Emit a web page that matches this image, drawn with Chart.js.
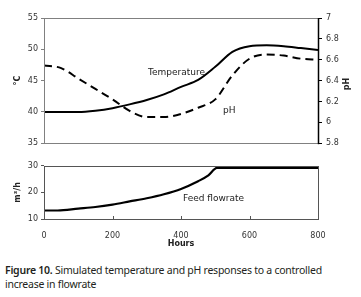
<!DOCTYPE html>
<html lang="en">
<head>
<meta charset="UTF-8">
<title>Figure 10</title>
<script src="https://cdn.jsdelivr.net/npm/chart.js"></script>
<style>
    body { margin: 0; background: #fff; width: 361px; height: 297px; position: relative; overflow: hidden; font-family: "DejaVu Sans", sans-serif; color: #222; }
    .box { position: absolute; left: 0; width: 361px; }
    #topBox { top: 0; height: 152px; }
    #bottomBox { top: 158px; height: 92px; }
    .lbl { position: absolute; font-size: 9px; line-height: 10px; white-space: nowrap; color: #222; }
    #phTitle { left: 340px; top: 79px; width: 14px; text-align: center; font-weight: bold; font-size: 8px; transform: rotate(-90deg); }
    #caption { position: absolute; left: 5px; top: 263px; font-family: "Noto Sans", sans-serif; font-size: 10.5px; line-height: 14px; color: #231f20; letter-spacing: -0.25px; }
    #caption b { font-weight: 600; }
</style>
</head>
<body>
<div class="box" id="topBox"><canvas id="topChart"></canvas></div>
<div class="box" id="bottomBox"><canvas id="bottomChart"></canvas></div>

<div class="lbl" style="left:148px; top:67px;">Temperature</div>
<div class="lbl" style="left:223px; top:105px;">pH</div>
<div class="lbl" style="left:183px; top:193px;">Feed flowrate</div>
<div class="lbl" id="phTitle">pH</div>
<div id="caption"><b>Figure 10.</b> Simulated temperature and pH responses to a controlled<br>increase in flowrate</div>

<script>
// hours for temperature and pH
const hours = [0, 50, 100, 150, 200, 250, 300, 350, 400, 450, 500, 550, 600, 650, 700, 750, 800];
const temperature = [40.0, 40.0, 40.0, 40.2, 40.6, 41.2, 41.9, 42.8, 44.0, 45.1, 47.2, 49.6, 50.5, 50.65, 50.5, 50.2, 49.9];
const ph = [6.545, 6.52, 6.42, 6.32, 6.22, 6.11, 6.05, 6.05, 6.08, 6.14, 6.22, 6.45, 6.61, 6.65, 6.64, 6.61, 6.60];

// feed flowrate (m3/h)
const flowHours = [0, 40, 100, 150, 200, 250, 300, 350, 400, 450, 480, 505, 550, 600, 650, 700, 750, 800];
const flowrate = [13.2, 13.2, 13.9, 14.5, 15.4, 16.6, 17.8, 19.3, 21.3, 24.2, 26.4, 29.2, 29.2, 29.2, 29.2, 29.2, 29.2, 29.2];

const xTicks = [0, 200, 400, 600, 800];

const tickFont = { family: 'DejaVu Sans', size: 8 };
const titleFont = { family: 'DejaVu Sans', size: 8, weight: 'bold' };

function pts(xs, ys) {
    return xs.map((x, i) => ({ x: x, y: ys[i] }));
}

// frame around plot area, plus optional inward x ticks
const framePlugin = {
    id: 'frame',
    afterDraw(chart, args, opts) {
        const a = chart.chartArea;
        const c = chart.ctx;
        c.save();
        c.lineWidth = 1;
        c.strokeStyle = opts.color || '#777';
        c.strokeRect(Math.round(a.left) + 0.5, Math.round(a.top) + 0.5, Math.round(a.right - a.left), Math.round(a.bottom - a.top));
        if (opts.rightColor) {
            c.strokeStyle = opts.rightColor;
            c.lineWidth = 1.5;
            c.beginPath();
            c.moveTo(Math.round(a.right) + 0.5, a.top);
            c.lineTo(Math.round(a.right) + 0.5, a.bottom + 1);
            c.stroke();
        }
        if (opts.innerTicks) {
            const xs = chart.scales.x;
            c.strokeStyle = opts.color || '#777';
            c.lineWidth = 1;
            opts.innerTicks.forEach(v => {
                const px = Math.round(xs.getPixelForValue(v)) + 0.5;
                c.beginPath();
                c.moveTo(px, a.bottom);
                c.lineTo(px, a.bottom - 3);
                c.stroke();
            });
        }
        c.restore();
    }
};

new Chart(document.getElementById('topChart'), {
    type: 'line',
    data: {
        datasets: [
            {
                label: 'Temperature',
                data: pts(hours, temperature),
                yAxisID: 'y',
                borderColor: '#000',
                borderWidth: 2,
                pointRadius: 0,
                cubicInterpolationMode: 'monotone'
            },
            {
                label: 'pH',
                data: pts(hours, ph),
                yAxisID: 'y2',
                borderColor: '#000',
                borderWidth: 2,
                borderDash: [8, 5],
                pointRadius: 0,
                cubicInterpolationMode: 'monotone'
            }
        ]
    },
    options: {
        responsive: true,
        maintainAspectRatio: false,
        animation: false,
        layout: { padding: { top: 18, bottom: 2, left: 0, right: 0 } },
        plugins: {
            legend: { display: false },
            tooltip: { enabled: false },
            frame: { color: '#808080', rightColor: '#000' }
        },
        scales: {
            x: { type: 'linear', min: 0, max: 800, display: false },
            y: {
                position: 'left',
                min: 35, max: 55,
                ticks: { stepSize: 5, font: tickFont, color: '#333', padding: 3 },
                grid: { drawOnChartArea: false, tickLength: 3, color: '#808080' },
                border: { display: false },
                title: { display: true, text: '°C', font: titleFont, color: '#222', padding: { top: 13, bottom: 0 } },
                afterFit(s) { s.width = 44; }
            },
            y2: {
                position: 'right',
                min: 5.8, max: 7,
                ticks: {
                    stepSize: 0.2, font: tickFont, color: '#333', padding: 4,
                    callback: v => String(Number(v.toFixed(1)))
                },
                grid: { drawOnChartArea: false, tickLength: 4, color: '#000' },
                border: { display: false },
                afterFit(s) { s.width = 43; }
            }
        }
    },
    plugins: [framePlugin]
});

new Chart(document.getElementById('bottomChart'), {
    type: 'line',
    data: {
        datasets: [
            {
                label: 'Feed flowrate',
                data: pts(flowHours, flowrate),
                borderColor: '#000',
                borderWidth: 2.2,
                pointRadius: 0,
                cubicInterpolationMode: 'monotone'
            }
        ]
    },
    options: {
        responsive: true,
        maintainAspectRatio: false,
        animation: false,
        layout: { padding: { top: 7, bottom: 0, left: 0, right: 43 } },
        plugins: {
            legend: { display: false },
            tooltip: { enabled: false },
            frame: { color: '#555', innerTicks: [200, 400, 600] }
        },
        scales: {
            x: {
                type: 'linear', min: 0, max: 800,
                afterBuildTicks(s) { s.ticks = xTicks.map(v => ({ value: v })); },
                ticks: { font: tickFont, color: '#333', padding: 4, maxRotation: 0 },
                grid: { display: false },
                border: { display: false },
                title: { display: true, text: 'Hours', font: titleFont, color: '#222', padding: { top: 0, bottom: 1 } },
                afterFit(s) { s.height = 31; }
            },
            y: {
                min: 10, max: 30,
                ticks: { stepSize: 10, font: tickFont, color: '#333', padding: 3 },
                grid: { drawOnChartArea: false, tickLength: 3, color: '#555' },
                border: { display: false },
                title: { display: true, text: 'm³/h', font: titleFont, color: '#222', padding: { top: 13, bottom: 0 } },
                afterFit(s) { s.width = 44; }
            }
        }
    },
    plugins: [framePlugin]
});
</script>
</body>
</html>
